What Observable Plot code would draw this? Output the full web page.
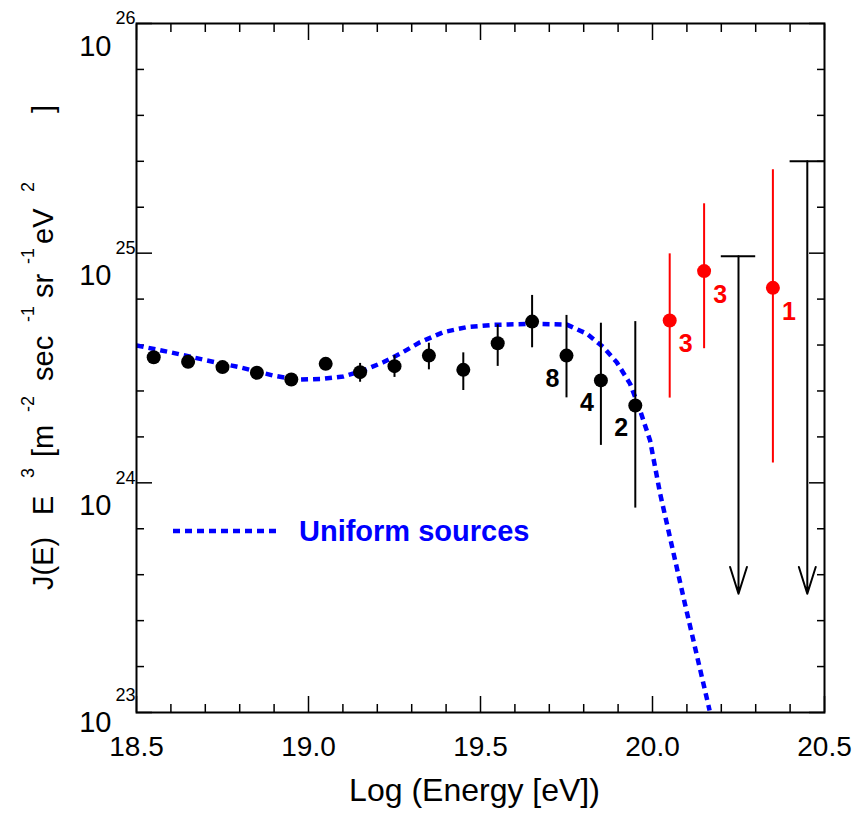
<!DOCTYPE html>
<html>
<head>
<meta charset="utf-8">
<script src="https://cdn.jsdelivr.net/npm/d3@7"></script>
<script src="https://cdn.jsdelivr.net/npm/@observablehq/plot@0.6"></script>
<style>
  html, body { margin: 0; padding: 0; background: #fff; }
  #chart { width: 856px; height: 816px; }
</style>
</head>
<body>
<div id="chart"></div>
<script>
// ---------- data (log10 values) ----------
const binLogE   = [18.55, 18.65, 18.75, 18.85, 18.95, 19.05, 19.15, 19.25, 19.35, 19.45, 19.55, 19.65, 19.75, 19.85, 19.95];
const binLogJ   = [24.547, 24.527, 24.504, 24.479, 24.450, 24.518, 24.482, 24.508, 24.554, 24.492, 24.608, 24.702, 24.554, 24.446, 24.337];
const binLogLo  = [24.537, 24.517, 24.494, 24.469, 24.440, 24.508, 24.438, 24.459, 24.492, 24.402, 24.507, 24.588, 24.370, 24.163, 23.890];
const binLogHi  = [24.557, 24.537, 24.514, 24.489, 24.460, 24.528, 24.520, 24.554, 24.608, 24.566, 24.688, 24.816, 24.729, 24.695, 24.702];

const redLogE   = [20.05, 20.15, 20.35];
const redLogJ   = [24.707, 24.922, 24.849];
const redLogLo  = [24.369, 24.584, 24.086];
const redLogHi  = [24.997, 25.215, 25.363];
const redCounts = ["3", "3", "1"];

const blackCountE = [19.75, 19.85, 19.95];
const blackCounts = ["8", "4", "2"];

const limitLogE   = [20.25, 20.45];
const limitLogJ   = [24.987, 25.400];
const limitTipLogJ = 23.517;

const modelLogE = [18.5006, 18.597, 18.704, 18.801, 18.898, 18.966, 19.043, 19.101, 19.159, 19.217, 19.266, 19.324, 19.392, 19.460, 19.537, 19.653, 19.751, 19.809, 19.857, 19.896, 19.935, 19.964, 19.993, 20.022, 20.094, 20.166];
const modelLogJ = [24.598, 24.569, 24.533, 24.503, 24.467, 24.449, 24.453, 24.463, 24.489, 24.525, 24.562, 24.612, 24.656, 24.678, 24.688, 24.692, 24.689, 24.649, 24.591, 24.525, 24.431, 24.315, 24.184, 23.954, 23.475, 23.009];
const modelName = "Uniform sources";

const xMajorTicks = [18.5, 19.0, 19.5, 20.0, 20.5];
const xMinorTicks = [18.6, 18.7, 18.8, 18.9, 19.1, 19.2, 19.3, 19.4, 19.6, 19.7, 19.8, 19.9, 20.1, 20.2, 20.3, 20.4];
const yMajorExp = [23, 24, 25, 26];
const yMinorExp = [23.2, 23.4, 23.6, 23.8, 24.2, 24.4, 24.6, 24.8, 25.2, 25.4, 25.6, 25.8];

const xTitle = "Log (Energy [eV])";

// ---------- tables built from the arrays ----------
const bins = binLogE.map((e, i) => ({x: e, y: 10 ** binLogJ[i], lo: 10 ** binLogLo[i], hi: 10 ** binLogHi[i]}));
const reds = redLogE.map((e, i) => ({x: e, y: 10 ** redLogJ[i], lo: 10 ** redLogLo[i], hi: 10 ** redLogHi[i], n: redCounts[i]}));
const blackLab = blackCountE.map((e, i) => {
  const k = binLogE.indexOf(e);
  return {x: e, y: 10 ** binLogJ[k], n: blackCounts[i]};
});
const limits = limitLogE.map((e, i) => ({x: e, y: 10 ** limitLogJ[i], tip: 10 ** limitTipLogJ}));
const model = modelLogE.map((e, i) => ({x: e, y: 10 ** modelLogJ[i]}));
const capHalf = 0.05;

const font = "'Liberation Sans', Arial, Helvetica, sans-serif";
const blue = "#0000ff";
const red = "#ff0000";

const chart = Plot.plot({
  width: 856,
  height: 816,
  marginLeft: 136,
  marginRight: 32,
  marginTop: 23,
  marginBottom: 104,
  style: {fontFamily: font, color: "black", background: "white"},
  x: {domain: [18.5, 20.5]},
  y: {type: "log", domain: [1e23, 1e26]},
  marks: [
    // ticks on all four sides (inward)
    Plot.axisX(xMinorTicks, {anchor: "bottom", tickSize: -8, fill: "none", strokeWidth: 1.5}),
    Plot.axisX(xMajorTicks, {anchor: "bottom", tickSize: -16, fill: "none", strokeWidth: 1.5}),
    Plot.axisX(xMinorTicks, {anchor: "top", tickSize: -8, fill: "none", strokeWidth: 1.5}),
    Plot.axisX(xMajorTicks, {anchor: "top", tickSize: -16, fill: "none", strokeWidth: 1.5}),
    Plot.axisY(yMinorExp.map(e => 10 ** e), {anchor: "left", tickSize: -8, fill: "none", strokeWidth: 1.5}),
    Plot.axisY(yMajorExp.map(e => 10 ** e), {anchor: "left", tickSize: -16, fill: "none", strokeWidth: 1.5}),
    Plot.axisY(yMinorExp.map(e => 10 ** e), {anchor: "right", tickSize: -8, fill: "none", strokeWidth: 1.5}),
    Plot.axisY(yMajorExp.map(e => 10 ** e), {anchor: "right", tickSize: -16, fill: "none", strokeWidth: 1.5}),
    // x tick labels
    Plot.axisX(xMajorTicks, {anchor: "bottom", tickSize: 0, tickPadding: 24, fontSize: 28, tickFormat: d3.format(".1f"), label: null}),
    // y tick labels: 10 with superscript exponent
    Plot.text(yMajorExp.filter(e => e !== 23), {y: e => 10 ** e, frameAnchor: "left", text: () => "10", textAnchor: "end", dx: -25, dy: 23, fontSize: 29}),
    Plot.text(yMajorExp.filter(e => e !== 23), {y: e => 10 ** e, frameAnchor: "left", text: e => String(e), textAnchor: "end", dx: -1, dy: -5, fontSize: 18}),
    Plot.text(yMajorExp.filter(e => e === 23), {y: e => 10 ** e, frameAnchor: "left", text: () => "10", textAnchor: "end", dx: -25, dy: 10, fontSize: 29}),
    Plot.text(yMajorExp.filter(e => e === 23), {y: e => 10 ** e, frameAnchor: "left", text: e => String(e), textAnchor: "end", dx: -1, dy: -17, fontSize: 18}),
    // x title
    Plot.text([xTitle], {frameAnchor: "bottom", text: d => d, dx: -6, dy: 88, fontSize: 32}),
    // model curve
    Plot.line(model, {x: "x", y: "y", stroke: blue, strokeWidth: 4.5, strokeDasharray: "7,5", strokeLinecap: "butt"}),
    // black data
    Plot.ruleX(bins, {x: "x", y1: "lo", y2: "hi", stroke: "black", strokeWidth: 2}),
    Plot.dot(bins, {x: "x", y: "y", r: 7, fill: "black", stroke: "none"}),
    Plot.text(blackLab, {x: "x", y: "y", text: "n", dx: -14, dy: 23, fontSize: 25, fontWeight: "bold", fill: "black"}),
    // red data
    Plot.ruleX(reds, {x: "x", y1: "lo", y2: "hi", stroke: red, strokeWidth: 2}),
    Plot.dot(reds, {x: "x", y: "y", r: 7, fill: red, stroke: "none"}),
    Plot.text(reds, {x: "x", y: "y", text: "n", dx: 16, dy: 24, fontSize: 25, fontWeight: "bold", fill: red}),
    // upper limits
    Plot.ruleY(limits, {y: "y", x1: d => d.x - capHalf, x2: d => d.x + capHalf, stroke: "black", strokeWidth: 2}),
    Plot.arrow(limits, {x1: "x", y1: "y", x2: "x", y2: "tip", stroke: "black", strokeWidth: 2, headLength: 21, headAngle: 35}),
    // frame
    Plot.frame({stroke: "black", strokeWidth: 2})
  ]
});

document.getElementById("chart").appendChild(chart);

// ---------- y-axis title with superscripts ----------
const svg = d3.select(chart);
const ySegs = [
  {t: "J(E)", at: 590, sup: false},
  {t: "E", at: 515, sup: false},
  {t: "3", at: 478, sup: true},
  {t: "[m", at: 457, sup: false},
  {t: "-2", at: 412, sup: true},
  {t: "sec", at: 381, sup: false},
  {t: "-1", at: 322, sup: true},
  {t: "sr", at: 298, sup: false},
  {t: "-1", at: 264, sup: true},
  {t: "eV", at: 244, sup: false},
  {t: "2", at: 192, sup: true},
  {t: "]", at: 113, sup: false}
];
const yt = svg.append("text")
  .attr("transform", "translate(53,0) rotate(-90)")
  .attr("font-family", font)
  .attr("text-anchor", "start")
  .attr("fill", "black");
ySegs.forEach(s => {
  yt.append("tspan")
    .attr("x", -s.at)
    .attr("y", s.sup ? -19 : 0)
    .attr("font-size", s.sup ? 18 : 29)
    .attr("text-anchor", "start")
    .text(s.t);
});

// ---------- legend ----------
const lg = svg.append("g");
lg.append("line")
  .attr("x1", 173).attr("x2", 279).attr("y1", 531).attr("y2", 531)
  .attr("stroke", blue).attr("stroke-width", 4.5).attr("stroke-dasharray", "7,5");
lg.append("text")
  .attr("x", 299).attr("y", 541)
  .attr("text-anchor", "start")
  .attr("font-family", font).attr("font-size", 29).attr("font-weight", "bold")
  .attr("fill", blue)
  .text(modelName);
</script>
</body>
</html>
